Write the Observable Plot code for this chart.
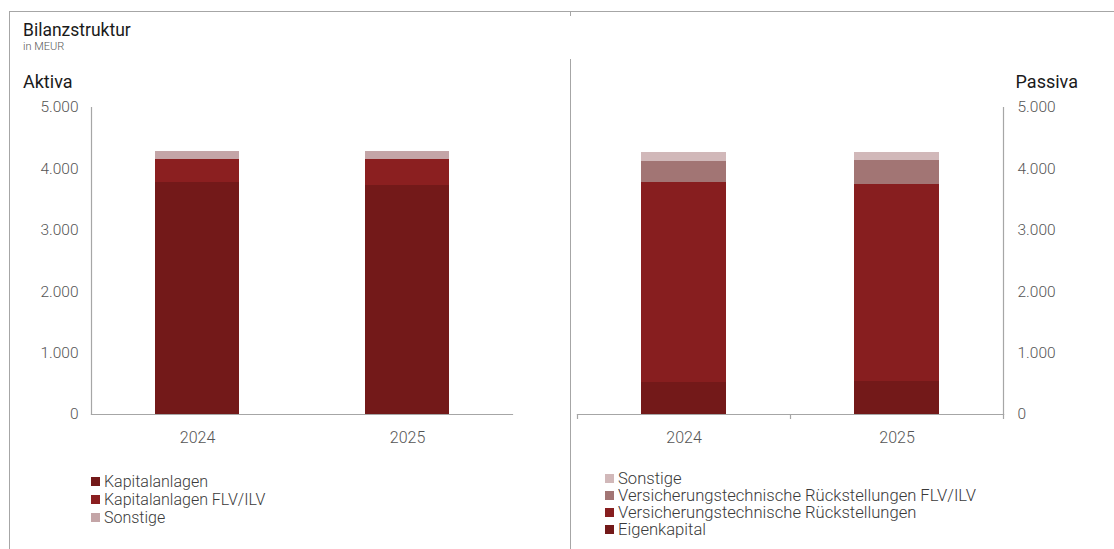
<!DOCTYPE html>
<html>
<head>
<meta charset="utf-8">
<script src="https://cdn.jsdelivr.net/npm/d3@7"></script>
<script src="https://cdn.jsdelivr.net/npm/@observablehq/plot@0.6"></script>
<style>
  html, body { margin: 0; padding: 0; background: #fff; }
  #page { position: relative; width: 1114px; height: 549px; overflow: hidden; background: #fff; font-family: Roboto, "Noto Sans", sans-serif; }
  .abs { position: absolute; white-space: nowrap; }
  .line { position: absolute; background: #a6a6a6; z-index: 5; }
  #title { left: 23px; top: 19px; font-size: 17.5px; line-height: 22px; color: #1a1a1a; }
  #unit { left: 23px; top: 40px; font-size: 11px; line-height: 13px; color: #555; font-weight: 300; }
  #aktiva { left: 23px; top: 71px; font-size: 18px; line-height: 22px; color: #1a1a1a; }
  #passiva { right: 36px; top: 71px; font-size: 18px; line-height: 22px; color: #1a1a1a; }
  .chart { position: absolute; top: 0; }
  .chart svg text { font-family: Roboto, sans-serif; font-weight: 300; }
  .legend { position: absolute; color: #3a3a3a; font-weight: 300; }
  .legend .row { display: flex; align-items: center; }
  #legendLeft { font-size: 16px; }
  #legendRight { font-size: 16.6px; }
  #legendLeft .row { height: 18px; }
  #legendRight .row { height: 17px; }
  .legend .sw { width: 9px; height: 9px; margin-right: 4px; flex: none; }
</style>
</head>
<body>
<div id="page">
  <div class="line" style="left:9px; top:11px; width:1105px; height:1px;"></div>
  <div class="line" style="left:9px; top:11px; width:1px; height:538px;"></div>
  <div class="line" style="left:570px; top:12px; width:1px; height:4px;"></div>
  <div class="line" style="left:570px; top:59px; width:1px; height:490px;"></div>
  <div class="abs" id="title">Bilanzstruktur</div>
  <div class="abs" id="unit">in MEUR</div>
  <div class="abs" id="aktiva">Aktiva</div>
  <div class="abs" id="passiva">Passiva</div>
  <div class="chart" id="left" style="left:0px;"></div>
  <div class="chart" id="right" style="left:571px;"></div>
  <div class="legend" id="legendLeft" style="left:91px; top:472px;"></div>
  <div class="legend" id="legendRight" style="left:605px; top:470px;"></div>
</div>
<script>
// ---- Data (MEUR) ----
const years = ["2024", "2025"];

const aktivaKategorien = ["Kapitalanlagen", "Kapitalanlagen FLV/ILV", "Sonstige"];
const aktivaFarben = ["#731919", "#8b1f20", "#c4a5a7"];
const kapitalanlagen = [3786, 3737];
const kapitalanlagenFLV = [360, 409];
const aktivaSonstige = [140, 140];

const passivaKategorien = ["Eigenkapital", "Versicherungstechnische Rückstellungen", "Versicherungstechnische Rückstellungen FLV/ILV", "Sonstige"];
const passivaFarben = ["#731919", "#871e1f", "#a27574", "#d1b8b9"];
const eigenkapital = [523, 539];
const vtRueckstellungen = [3257, 3208];
const vtRueckstellungenFLV = [343, 387];
const passivaSonstige = [137, 126];

const yTicks = [0, 1000, 2000, 3000, 4000, 5000];

// ---- Build tables ----
const aktivaSerien = [kapitalanlagen, kapitalanlagenFLV, aktivaSonstige];
const passivaSerien = [eigenkapital, vtRueckstellungen, vtRueckstellungenFLV, passivaSonstige];
const aktiva = aktivaKategorien.flatMap((k, i) => years.map((y, j) => ({year: y, cat: k, value: aktivaSerien[i][j]})));
const passiva = passivaKategorien.flatMap((k, i) => years.map((y, j) => ({year: y, cat: k, value: passivaSerien[i][j]})));

const de = d3.formatLocale({decimal: ",", thousands: ".", grouping: [3], currency: ["", " €"]});
const fmt = de.format(",");

const axisColor = "#a6a6a6";
const textColor = "#555555";

function makeChart({data, cats, colors, width, marginLeft, marginRight, anchor, tickPadding}) {
  return Plot.plot({
    width, height: 450,
    marginLeft, marginRight, marginTop: 107, marginBottom: 36,
    style: {fontFamily: "Roboto, sans-serif", fontSize: "15.5px", color: textColor, background: "transparent", overflow: "visible"},
    x: {domain: years, paddingInner: 0.6, paddingOuter: 0.3, label: null},
    y: {domain: [0, 5000], label: null},
    color: {domain: cats, range: colors},
    marks: [
      Plot.barY(data, {x: "year", y: "value", fill: "cat", z: "cat", order: cats, shapeRendering: "crispEdges"}),
      Plot.axisY({anchor, ticks: yTicks, tickSize: 0, tickPadding, tickFormat: fmt, label: null}),
      Plot.axisX({tickSize: 0, tickPadding: 17, label: null, fontSize: 16}),
      Plot.frame({anchor: anchor, stroke: axisColor, strokeWidth: 1.2}),
      Plot.frame({anchor: "bottom", stroke: axisColor, strokeWidth: 1.2})
    ]
  });
}

const left = makeChart({data: aktiva, cats: aktivaKategorien, colors: aktivaFarben, width: 570, marginLeft: 91, marginRight: 58, anchor: "left", tickPadding: 13});
document.getElementById("left").append(left);

const right = makeChart({data: passiva, cats: passivaKategorien, colors: passivaFarben, width: 543, marginLeft: 6, marginRight: 111, anchor: "right", tickPadding: 14});
document.getElementById("right").append(right);

// category separator ticks on the Passiva x-axis, from the plot's own x scale
{
  const xs = right.scale("x");
  const ys = right.scale("y");
  const y0 = ys.apply(0);
  const b0 = xs.apply(years[0]), b1 = xs.apply(years[1]);
  const positions = [xs.range[0], (b0 + xs.bandwidth + b1) / 2, xs.range[1]];
  d3.select(right).append("g")
    .attr("stroke", axisColor).attr("stroke-width", 1.2)
    .selectAll("line").data(positions).join("line")
    .attr("x1", d => Math.round(d) + 0.5).attr("x2", d => Math.round(d) + 0.5)
    .attr("y1", y0).attr("y2", y0 + 5);
}

// ---- Legends ----
function legend(id, cats, colors) {
  const el = d3.select("#" + id);
  el.selectAll("div.row").data(cats).join("div").attr("class", "row")
    .each(function (d) {
      const r = d3.select(this);
      r.append("span").attr("class", "sw").style("background", colors[cats.indexOf(d)]);
      r.append("span").text(d);
    });
}
legend("legendLeft", aktivaKategorien, aktivaFarben);
legend("legendRight", passivaKategorien.slice().reverse(), passivaFarben.slice().reverse());
</script>
</body>
</html>
